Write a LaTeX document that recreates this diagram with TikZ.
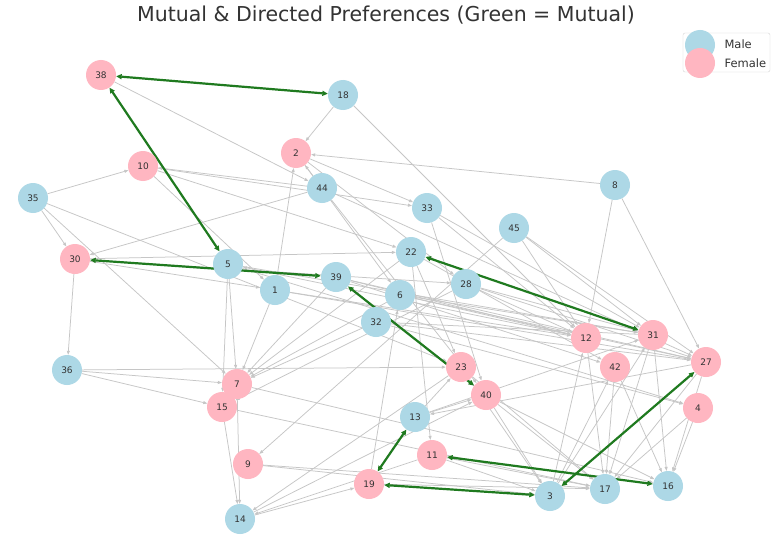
\documentclass[tikz,border=0pt]{standalone}
\usepackage{fontspec}
\setmainfont{DejaVu Sans}
\usetikzlibrary{arrows.meta}
\pgfdeclarelayer{bg}
\pgfsetlayers{bg,main}
\definecolor{mblue}{HTML}{ADD8E6}
\definecolor{fpink}{HTML}{FFB6C1}
\definecolor{egray}{HTML}{C6C6C6}
\definecolor{mgreen}{HTML}{1F7A1F}
\definecolor{txt}{HTML}{333333}
\definecolor{legline}{HTML}{D5D5D5}
\begin{document}
\begin{tikzpicture}[x=1pt,y=-1pt,
  person/.style={circle,minimum size=30pt,inner sep=0pt,font=\fontsize{9}{9}\selectfont,text=txt},
  male/.style={person,fill=mblue},
  female/.style={person,fill=fpink},
  pref/.style={draw=egray,line width=0.75pt,-{Triangle[length=4pt,width=3pt]}},
  mutual/.style={draw=mgreen,line width=2.2pt,{Triangle[length=5.5pt,width=5pt]}-{Triangle[length=5.5pt,width=5pt]}}]
\useasboundingbox (0,0) rectangle (775,559);
% title
\node[font=\fontsize{20.5}{21}\selectfont,text=txt] (title) at (386,15) {Mutual \& Directed Preferences (Green = Mutual)};
% nodes
\node[female] (n38) at (101,75) {38};
\node[male]   (n18) at (343,95) {18};
\node[female] (n2)  at (296,153) {2};
\node[female] (n10) at (143,166) {10};
\node[male]   (n44) at (322,188) {44};
\node[male]   (n35) at (33,198) {35};
\node[male]   (n33) at (427,208) {33};
\node[male]   (n8)  at (615,185) {8};
\node[male]   (n45) at (514,228) {45};
\node[male]   (n22) at (411,252) {22};
\node[female] (n30) at (75,259) {30};
\node[male]   (n5)  at (228,264) {5};
\node[male]   (n39) at (336,277) {39};
\node[male]   (n1)  at (275,290) {1};
\node[male]   (n28) at (466,284) {28};
\node[male]   (n6)  at (400,295) {6};
\node[male]   (n32) at (376,322) {32};
\node[female] (n12) at (586,338) {12};
\node[female] (n31) at (653,335) {31};
\node[female] (n27) at (706,362) {27};
\node[female] (n42) at (615,367) {42};
\node[male]   (n36) at (67,370) {36};
\node[female] (n7)  at (237,384) {7};
\node[female] (n15) at (222,407) {15};
\node[female] (n23) at (461,367) {23};
\node[female] (n40) at (486,395) {40};
\node[female] (n4)  at (698,408) {4};
\node[male]   (n13) at (415,417) {13};
\node[female] (n11) at (432,455) {11};
\node[female] (n9)  at (248,464) {9};
\node[female] (n19) at (369,484) {19};
\node[male]   (n3)  at (550,496) {3};
\node[male]   (n17) at (605,489) {17};
\node[male]   (n16) at (668,486) {16};
\node[male]   (n14) at (240,519) {14};
% edges
\begin{pgfonlayer}{bg}
\fill[white] (0,0) rectangle (775,559);
\foreach \a/\b in {18/2,18/12,44/10,44/30,44/2,44/27,44/40,35/10,35/30,35/7,35/23,
  33/40,33/31,33/12,8/2,8/12,8/27,45/9,45/12,45/31,45/27,
  22/7,22/23,22/11,22/42,5/7,5/15,5/31,5/4,39/7,39/12,39/27,39/42,
  1/2,1/7,1/12,1/27,28/12,28/31,28/27,28/15,6/7,6/12,6/31,6/27,
  32/4,32/27,32/7,36/7,36/15,36/23,13/23,13/31,13/40,3/31,3/12,3/42,
  14/19,14/40,38/44,2/33,2/6,2/28,10/33,10/22,10/1,30/36,30/22,30/28,30/1,
  12/17,12/5,31/17,31/16,31/32,27/17,27/16,27/13,42/16,42/17,7/14,7/16,
  23/3,23/17,23/14,15/14,15/17,40/3,40/17,40/16,4/16,4/17,11/14,11/3,11/17,
  9/17,9/3,19/6,19/17}
  \draw[pref] (n\a) -- (n\b);
\foreach \a/\b in {38/18,38/5,30/39,22/31,39/40,13/19,19/3,11/16,27/3}
  \draw[mutual] (n\a) -- (n\b);
\end{pgfonlayer}
% legend
\node[draw=legline,fill=white,rounded corners=2pt,minimum width=87pt,minimum height=39pt,inner sep=0pt] (legbox) at (726.5,52.5) {};
\node[male] (legm) at (700,45) {};
\node[female] (legf) at (700,63) {};
\node[anchor=west,font=\fontsize{11.5}{12}\selectfont,text=txt] (legmt) at (721,44) {Male};
\node[anchor=west,font=\fontsize{11.5}{12}\selectfont,text=txt] (legft) at (721,63) {Female};
\end{tikzpicture}
\end{document}
